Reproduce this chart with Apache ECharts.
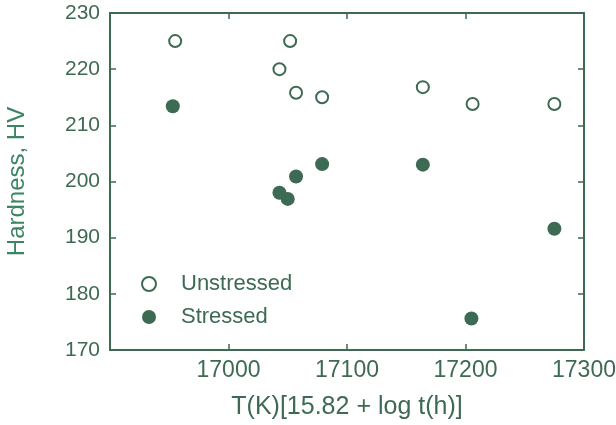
<!DOCTYPE html>
<html>
<head>
<meta charset="utf-8">
<script src="https://cdn.jsdelivr.net/npm/echarts@6/dist/echarts.min.js"></script>
<style>html,body{margin:0;padding:0;background:#fff}#c{width:616px;height:425px}</style>
</head>
<body>
<div id="c"></div>
<script>
var unstressedX = [16955, 17052, 17043, 17057, 17079, 17164, 17206, 17275];
var unstressedHV = [225, 225, 220, 215.8, 215, 216.8, 213.8, 213.8];
var stressedX = [16953, 17043, 17050, 17057, 17079, 17164, 17205, 17275];
var stressedHV = [213.4, 198, 196.9, 200.9, 203.1, 203, 175.6, 191.6];
var xTicks = [17000, 17100, 17200, 17300];
var yTicks = [170, 180, 190, 200, 210, 220, 230];

var C = '#3d6a52';
var FONT = 'Liberation Sans';
function pairs(xs, ys) { return xs.map(function (x, i) { return [x, ys[i]]; }); }

var chart = echarts.init(document.getElementById('c'), null, {renderer: 'canvas'});
chart.setOption({
  animation: false,
  backgroundColor: '#fff',
  grid: {left: 110, right: 32, top: 13, bottom: 75, containLabel: false, outerBoundsMode: 'none'},
  xAxis: [{
    type: 'value', min: 16900, max: 17300, interval: 100, position: 'bottom',
    name: 'T(K)[15.82 + log t(h)]', nameLocation: 'middle', nameGap: 45,
    nameTextStyle: {color: C, fontFamily: FONT, fontSize: 25},
    axisLine: {show: true, lineStyle: {color: C, width: 2}},
    axisTick: {show: true, inside: true, length: 6, lineStyle: {color: C, width: 1.5}},
    axisLabel: {color: C, fontFamily: FONT, fontSize: 23, margin: 9,
      formatter: function (v) { return xTicks.indexOf(v) >= 0 ? String(v) : ''; }},
    splitLine: {show: false}
  }, {
    type: 'value', min: 16900, max: 17300, interval: 100, position: 'top',
    axisLine: {show: true, lineStyle: {color: C, width: 2}},
    axisTick: {show: true, inside: true, length: 6, lineStyle: {color: C, width: 1.5}},
    axisLabel: {show: false}, splitLine: {show: false}
  }],
  yAxis: [{
    type: 'value', min: 170, max: 230, interval: 10, position: 'left',
    name: 'Hardness, HV', nameLocation: 'middle', nameGap: 81,
    nameTextStyle: {color: '#3b8565', fontFamily: FONT, fontSize: 24},
    axisLine: {show: true, lineStyle: {color: C, width: 2}},
    axisTick: {show: true, inside: true, length: 6, lineStyle: {color: C, width: 1.5}},
    axisLabel: {color: C, fontFamily: FONT, fontSize: 21, margin: 10,
      formatter: function (v) { return yTicks.indexOf(v) >= 0 ? String(v) : ''; }},
    splitLine: {show: false}
  }, {
    type: 'value', min: 170, max: 230, interval: 10, position: 'right',
    axisLine: {show: true, lineStyle: {color: C, width: 2}},
    axisTick: {show: true, inside: true, length: 6, lineStyle: {color: C, width: 1.5}},
    axisLabel: {show: false}, splitLine: {show: false}
  }],
  legend: {
    orient: 'vertical', left: 136, top: 268, itemWidth: 14, itemHeight: 14, itemGap: 11,
    data: ['Unstressed', 'Stressed'],
    textStyle: {color: C, fontFamily: FONT, fontSize: 22, padding: [0, 0, 0, 20]}
  },
  series: [{
    name: 'Unstressed', type: 'scatter', symbol: 'circle', symbolSize: 12,
    itemStyle: {color: '#fff', borderColor: C, borderWidth: 2, opacity: 1},
    data: pairs(unstressedX, unstressedHV)
  }, {
    name: 'Stressed', type: 'scatter', symbol: 'circle', symbolSize: 14,
    itemStyle: {color: C, opacity: 1},
    data: pairs(stressedX, stressedHV)
  }]
});
</script>
</body>
</html>
